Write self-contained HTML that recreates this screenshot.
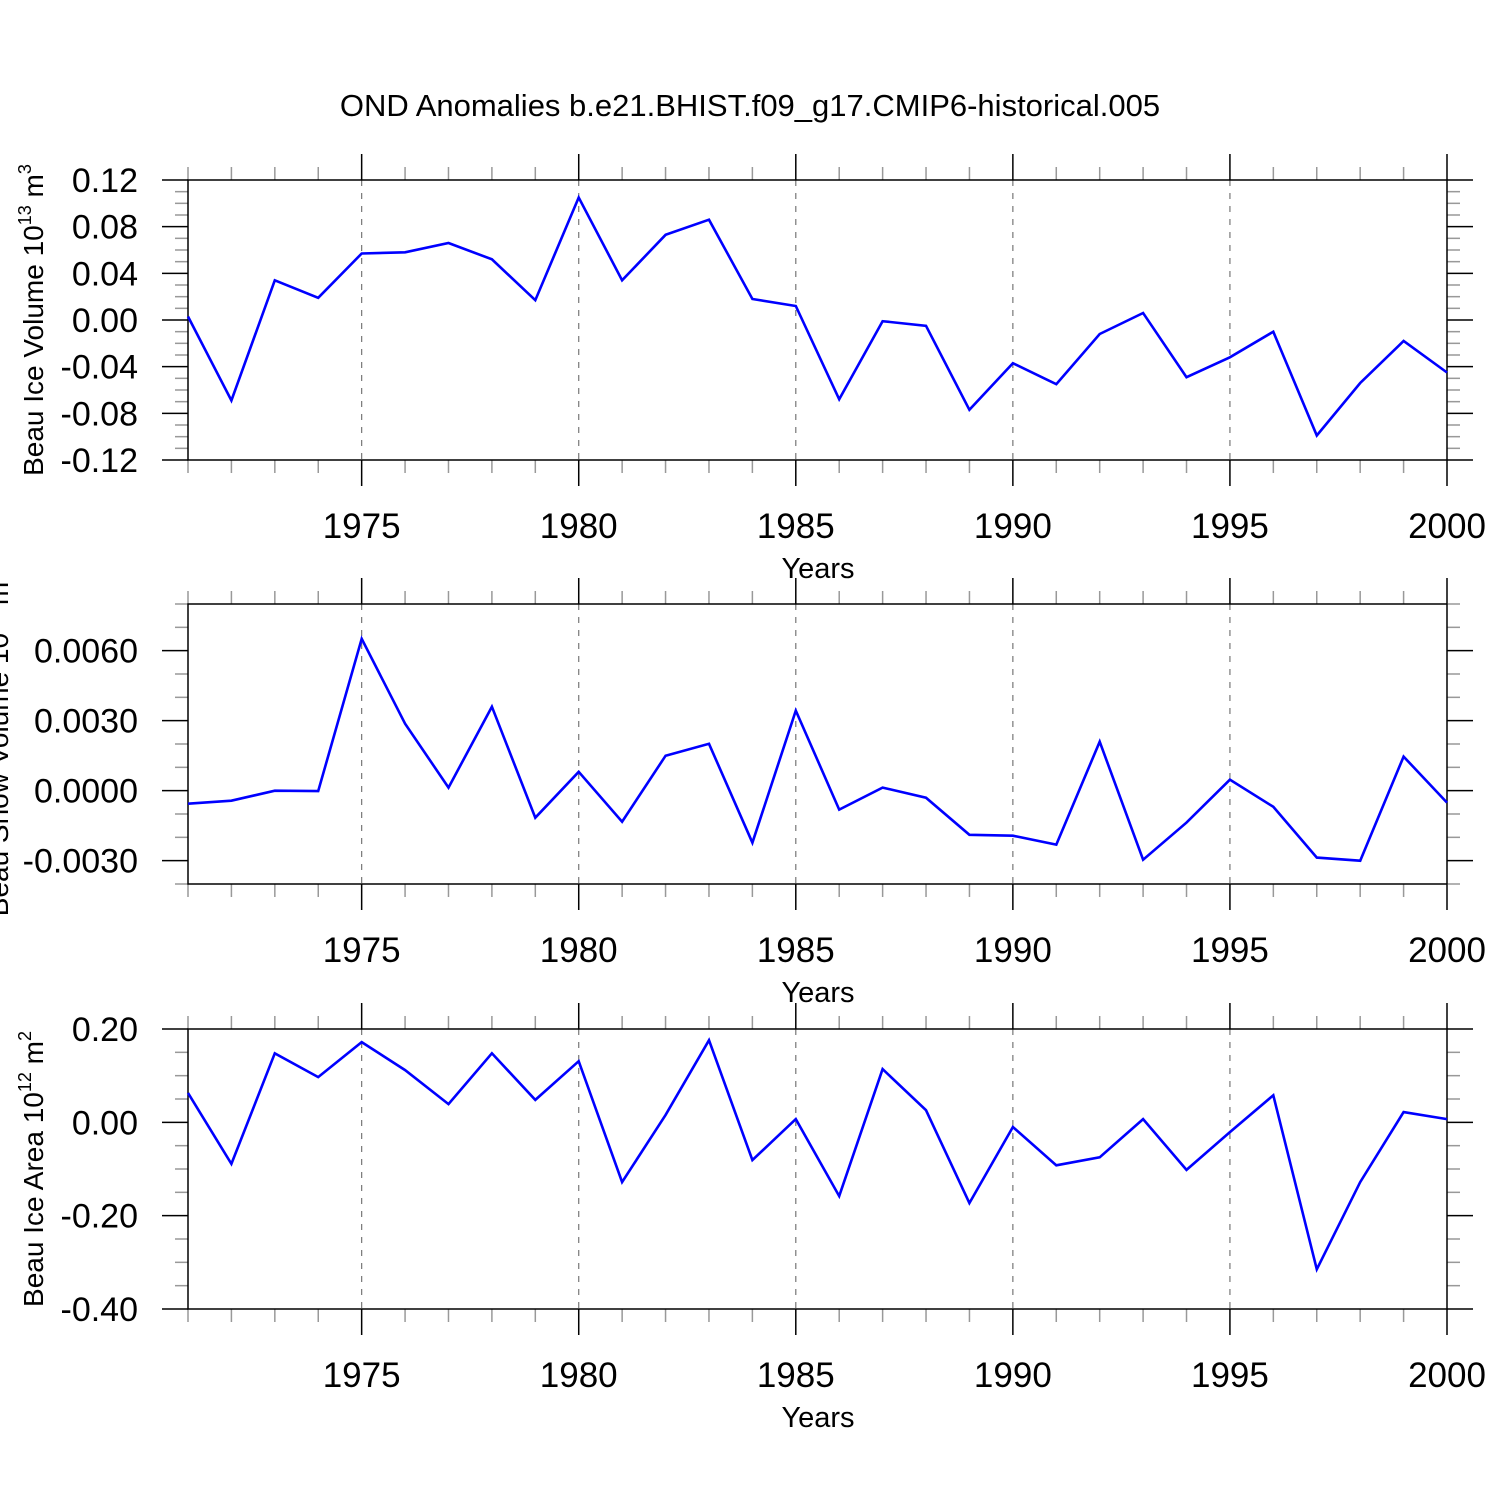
<!DOCTYPE html>
<html><head><meta charset="utf-8"><style>
html,body{margin:0;padding:0;background:#fff}
svg{display:block}
text{font-family:"Liberation Sans",Arial,sans-serif;fill:#000}
</style></head><body>
<svg id="c" width="1500" height="1500" viewBox="0 0 1500 1500" xmlns="http://www.w3.org/2000/svg">
<text x="750" y="116" font-size="31" text-anchor="middle">OND Anomalies b.e21.BHIST.f09_g17.CMIP6-historical.005</text>
</svg>
<script>
const years = [1971,1972,1973,1974,1975,1976,1977,1978,1979,1980,1981,1982,1983,1984,1985,1986,1987,1988,1989,1990,1991,1992,1993,1994,1995,1996,1997,1998,1999,2000];
const iceVolume = [0.003,-0.069,0.034,0.019,0.057,0.058,0.066,0.052,0.017,0.105,0.034,0.073,0.086,0.018,0.012,-0.068,-0.001,-0.005,-0.077,-0.037,-0.055,-0.012,0.006,-0.049,-0.032,-0.010,-0.099,-0.054,-0.018,-0.045];
const snowVolume = [-0.00056,-0.00043,0,-0.00002,0.00651,0.00287,0.00013,0.0036,-0.00116,0.00081,-0.00133,0.0015,0.00201,-0.00223,0.00343,-0.00081,0.00013,-0.0003,-0.00189,-0.00193,-0.00231,0.0021,-0.00296,-0.00137,0.00047,-0.00069,-0.00287,-0.003,0.00146,-0.00051];
const iceArea = [0.063,-0.089,0.148,0.097,0.172,0.112,0.039,0.148,0.048,0.131,-0.128,0.016,0.176,-0.081,0.007,-0.158,0.114,0.026,-0.173,-0.010,-0.092,-0.075,0.007,-0.102,-0.021,0.058,-0.315,-0.128,0.022,0.007];
const xTickLabels = ["1975","1980","1985","1990","1995","2000"];
const p1Ticks = ["0.12","0.08","0.04","0.00","-0.04","-0.08","-0.12"];
const p2Ticks = ["0.0060","0.0030","0.0000","-0.0030"];
const p3Ticks = ["0.20","0.00","-0.20","-0.40"];

const svg = document.getElementById('c');
const NS = 'http://www.w3.org/2000/svg';
function mk(tag, attrs, parent){const e=document.createElementNS(NS,tag);for(const k in attrs)e.setAttribute(k,attrs[k]);(parent||svg).appendChild(e);return e;}
const X0=188, X1=1447, XMIN=1971, XMAX=2000;
const xs = v => X0 + (v-XMIN)/(XMAX-XMIN)*(X1-X0);

function panel(idx, top, ymin, ymax, majorStep, minorStep, tickLabels, data, ylabelParts, ylabelX){
  const bot = top+280;
  const ys = v => bot - (v-ymin)/(ymax-ymin)*280;
  const g = mk('g',{});
  
  
  for(let y=1975;y<2000;y+=5){
    const l=mk('line',{x1:xs(y),x2:xs(y),y1:top,y2:bot,stroke:'#777','stroke-width':1.2,'stroke-dasharray':'6,7'},g);
    
    
  }
  for(let y=XMIN;y<=XMAX;y++){
    const maj = y%5===0; const len = maj?26:13; const col=maj?'#000':'#999';
    mk('line',{x1:xs(y),x2:xs(y),y1:top-len,y2:top,stroke:col,'stroke-width':1.5},g);
    mk('line',{x1:xs(y),x2:xs(y),y1:bot,y2:bot+len,stroke:col,'stroke-width':1.5},g);
  }
  const n = Math.round((ymax-ymin)/minorStep);
  const ratio = Math.round(majorStep/minorStep);
  for(let i=0;i<=n;i++){
    const v = ymin + i*minorStep;
    const majIdx = Math.round(v/minorStep);
    const maj = ((majIdx%ratio)+ratio)%ratio===0;
    const len = maj?26:13; const col=maj?'#000':'#999';
    mk('line',{x1:X0-len,x2:X0,y1:ys(v),y2:ys(v),stroke:col,'stroke-width':1.5},g);
    mk('line',{x1:X1,x2:X1+len,y1:ys(v),y2:ys(v),stroke:col,'stroke-width':1.5},g);
  }
  tickLabels.forEach(t=>{
    const tx=mk('text',{x:138,y:ys(parseFloat(t))+12,'font-size':34,'text-anchor':'end'},g);
    tx.textContent=t;
    
    
  });
  xTickLabels.forEach(t=>{
    const tx=mk('text',{x:xs(parseFloat(t)),y:bot+78,'font-size':35,'text-anchor':'middle'},g);
    tx.textContent=t;
    
    
  });
  const xl=mk('text',{x:818,y:bot+118,'font-size':29,'text-anchor':'middle'},g);
  xl.textContent='Years';
  
  
  const f=mk('rect',{x:X0,y:top,width:X1-X0,height:280,fill:'none',stroke:'#000','stroke-width':1.5},g);
  
  
  const pts = data.map((v,i)=>xs(years[i]).toFixed(1)+','+ys(v).toFixed(1)).join(' ');
  const pl=mk('polyline',{points:pts,fill:'none',stroke:'#0000ff','stroke-width':2.6,'stroke-linejoin':'miter'},g);
  
  
  const cy = top+140;
  const yl=mk('text',{x:ylabelX,y:cy,'font-size':28,'text-anchor':'middle',transform:`rotate(-90 ${ylabelX} ${cy})`},g);
  
  
  const [a,e1,b,e2]=ylabelParts;
  const t1=mk('tspan',{},yl);t1.textContent=a;
  const t2=mk('tspan',{dy:-12,'font-size':18},yl);t2.textContent=e1;
  const t3=mk('tspan',{dy:12},yl);t3.textContent=b;
  const t4=mk('tspan',{dy:-12,'font-size':18},yl);t4.textContent=e2;
}
panel(1,180,-0.12,0.12,0.04,0.01,p1Ticks,iceVolume,['Beau Ice Volume 10','13',' m','3'],43);
panel(2,604,-0.004,0.008,0.003,0.001,p2Ticks,snowVolume,['Beau Snow Volume 10','13',' m','3'],8);
panel(3,1029,-0.4,0.2,0.2,0.05,p3Ticks,iceArea,['Beau Ice Area 10','12',' m','2'],43);
</script>
</body></html>
